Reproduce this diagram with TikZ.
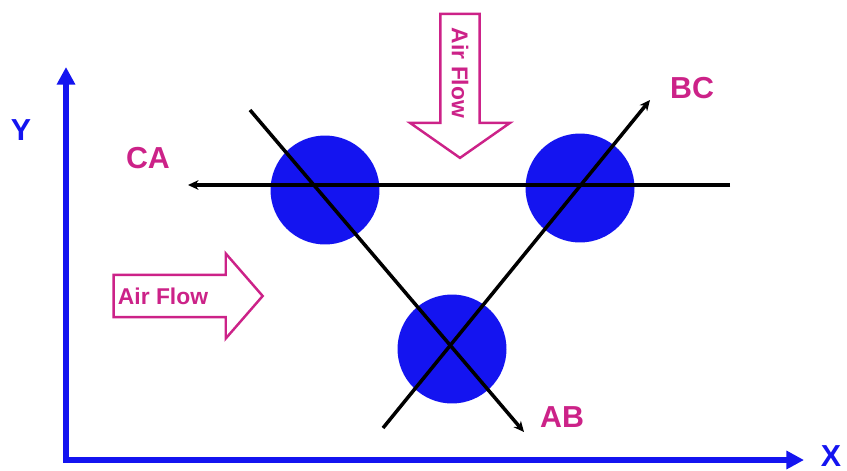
\documentclass[tikz,border=0pt]{standalone}
\usepackage{fontspec}
\setmainfont{Liberation Sans}
\usetikzlibrary{arrows.meta,shapes.arrows}
\definecolor{flowpink}{RGB}{204,34,136}
\definecolor{axisblue}{RGB}{20,20,240}
\tikzset{
  disc/.style={circle, fill=axisblue, minimum size=2.18cm, inner sep=0pt},
  axisline/.style={axisblue, line width=3.2pt, -{Triangle[length=10pt,width=10pt]}},
  axislabel/.style={text=axisblue, font=\bfseries\LARGE, inner sep=0pt},
  phaseline/.style={black, line width=2pt, -{Stealth[length=6pt,width=5.5pt]}},
  phaselabel/.style={text=flowpink, font=\bfseries\LARGE},
  flowarrow/.style={single arrow, draw=flowpink, line width=1.4pt, text=flowpink,
    font=\bfseries\fontsize{13}{15}\selectfont, inner sep=1pt}
}
\begin{document}
\begin{tikzpicture}[x=0.02cm, y=-0.02cm]
  \useasboundingbox (0,0) rectangle (847,470);

  % Axes
  \coordinate (O) at (66,460);
  \coordinate (xend) at (804,460);
  \coordinate (yend) at (66,67);
  \draw[axisline] (O) -- (xend);
  \draw[axisline] ([yshift=-1.6pt]O) -- (yend);
  \node[axislabel] (ylab) at (21,130) {Y};
  \node[axislabel] (xlab) at (831,456) {X};

  % Conductors
  \node[disc] (ca) at (325,190) {};
  \node[disc] (bc) at (580,188) {};
  \node[disc] (ab) at (452,349) {};

  % Lines through the conductors
  \coordinate (ca0) at (730,185);
  \coordinate (ca1) at (188,185);
  \coordinate (bc0) at (383,428);
  \coordinate (bc1) at (650,100);
  \coordinate (ab0) at (250,110);
  \coordinate (ab1) at (524,432);
  \draw[phaseline] (ca0) -- (ca1);
  \draw[phaseline] (bc0) -- (bc1);
  \draw[phaseline] (ab0) -- (ab1);

  % Labels
  \node[phaselabel] (calab) at (148,158) {CA};
  \node[phaselabel] (bclab) at (692,88) {BC};
  \node[phaselabel] (ablab) at (562,417) {AB};

  % Air flow
  \node[flowarrow, minimum height=2.98cm, minimum width=1.7cm,
    single arrow head extend=0.23cm, single arrow tip angle=98]
    (flowx) at (179,296) {\makebox[0pt]{\hspace*{-0.64cm}Air Flow}};
  \node[flowarrow, rotate=-90, minimum height=2.88cm, minimum width=2cm,
    single arrow head extend=0.35cm, single arrow tip angle=110]
    (flowy) at (460,79) {\makebox[0pt]{\hspace*{-0.24cm}Air Flow}};
\end{tikzpicture}
\end{document}
